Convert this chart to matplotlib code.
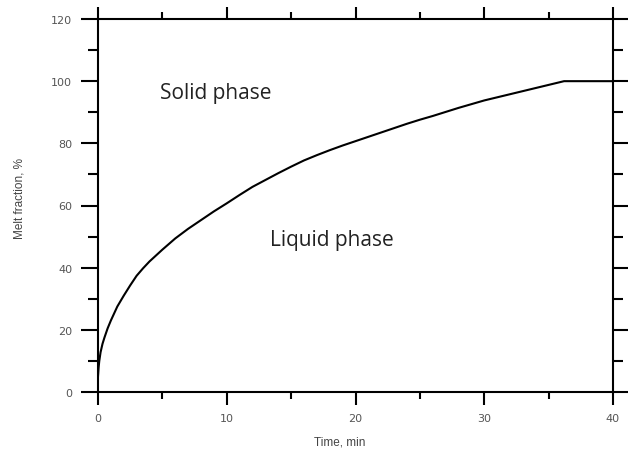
import matplotlib
matplotlib.use("Agg")
import matplotlib.pyplot as plt
from matplotlib.ticker import MultipleLocator

time_min = [0, 0.05, 0.1, 0.2, 0.35, 0.5, 0.75, 1, 1.5, 2, 2.5, 3, 3.5, 4, 5,
            6, 7, 8, 9, 10, 11, 12, 13, 14, 15, 16, 17, 18, 19, 20, 21, 22,
            23, 24, 25, 26, 27, 28, 29, 30, 31, 32, 33, 34, 35, 36.2, 40]
melt_frac = [5, 8, 10, 12.8, 15.5, 17.5, 20.5, 23, 27.5, 31, 34.3, 37.4, 39.8,
             42.0, 45.8, 49.4, 52.5, 55.3, 58.1, 60.7, 63.4, 66.0, 68.2, 70.4,
             72.5, 74.5, 76.2, 77.8, 79.3, 80.7, 82.1, 83.5, 84.9, 86.3, 87.6,
             88.8, 90.1, 91.4, 92.6, 93.8, 94.8, 95.8, 96.8, 97.8, 98.8, 100,
             100]

fig = plt.figure(figsize=(6.28, 4.52), dpi=100)
ax = fig.add_axes([98/628, 59/452, 515/628, 373/452])

ax.plot(time_min, melt_frac, color='black', lw=1.5)

ax.set_xlim(0, 40)
ax.set_ylim(0, 120)
ax.xaxis.set_major_locator(MultipleLocator(10))
ax.xaxis.set_minor_locator(MultipleLocator(5))
ax.yaxis.set_major_locator(MultipleLocator(20))
ax.yaxis.set_minor_locator(MultipleLocator(10))

for s in ax.spines.values():
    s.set_linewidth(1.5)

ax.tick_params(axis='x', which='major', direction='out', length=9, width=1.5,
               top=True, bottom=True, pad=6)
ax.tick_params(axis='x', which='minor', direction='out', length=5, width=1.5,
               top=True, bottom=True)
ax.tick_params(axis='y', which='major', direction='out', length=12.5, width=1.5,
               left=True, right=True, pad=6)
ax.tick_params(axis='y', which='minor', direction='out', length=7.5, width=1.5,
               left=True, right=True)
for lab in ax.get_xticklabels() + ax.get_yticklabels():
    lab.set_fontfamily('DejaVu Sans')
    lab.set_fontsize(8)
    lab.set_color('#555555')

ax.set_xlabel('Time, min', fontsize=8.5, color='#444444',
              family=['Liberation Sans Narrow', 'Liberation Sans', 'DejaVu Sans'])
ax.xaxis.set_label_coords((340-98)/515, -(437-393)/373)
ax.set_ylabel('Melt fraction, %', fontsize=8.5, color='#444444',
              family=['Liberation Sans Narrow', 'Liberation Sans', 'DejaVu Sans'])
ax.yaxis.set_label_coords(-(98-25)/515, (393-199)/373)

ax.text(4.82, 94.6, 'Solid phase', fontsize=15, color='#222222',
        family=['Open Sans', 'DejaVu Sans'], va='baseline', ha='left')
ax.text(13.36, 47.3, 'Liquid phase', fontsize=15, color='#222222',
        family=['Open Sans', 'DejaVu Sans'], va='baseline', ha='left')

fig.savefig('out.png', dpi=100)
